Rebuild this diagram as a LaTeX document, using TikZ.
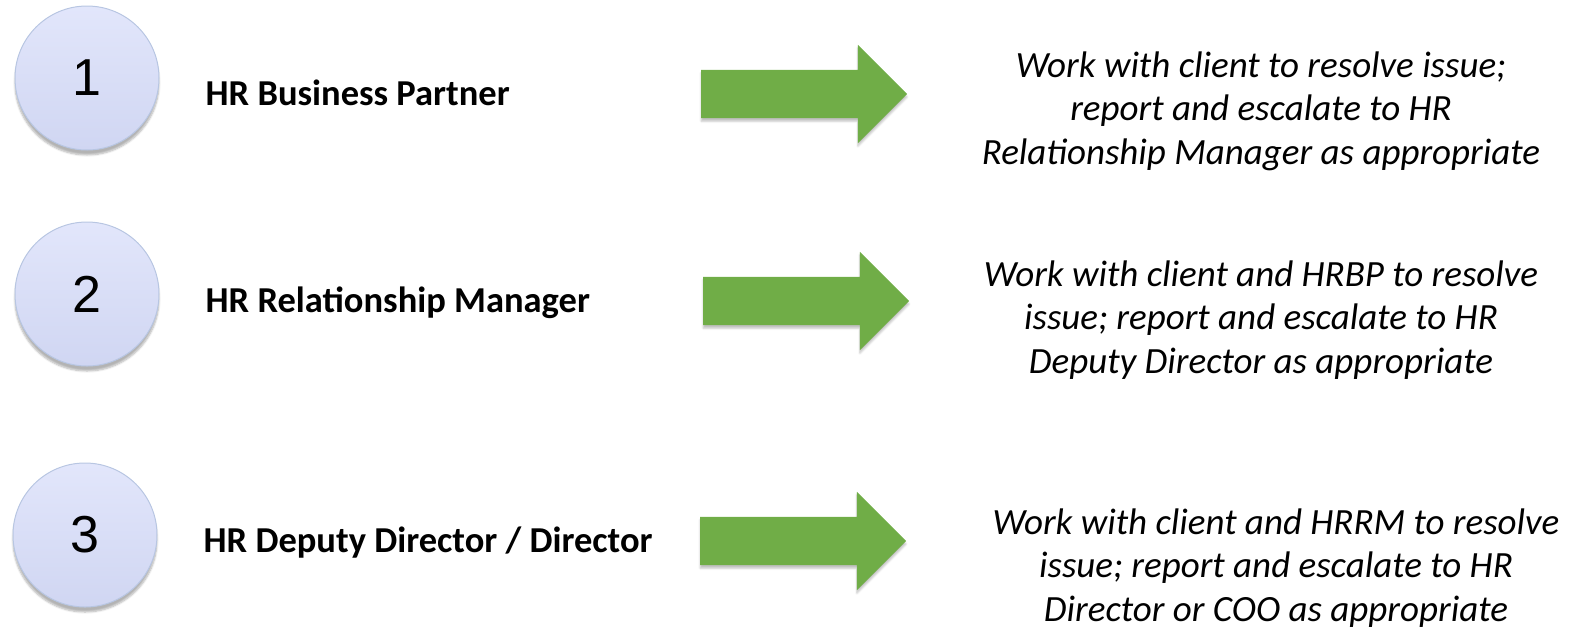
\documentclass[tikz,border=0pt]{standalone}
\usepackage{fontspec}
\setmainfont{Carlito}
\newfontfamily\numfont{Liberation Sans}
\usepackage{xcolor}
\usepackage{tikz}
\usetikzlibrary{positioning,shapes.arrows,shadows.blur}

\definecolor{stepTop}{RGB}{226,230,251}
\definecolor{stepBottom}{RGB}{208,214,242}
\definecolor{stepLine}{RGB}{184,198,226}
\definecolor{escGreen}{RGB}{112,173,71}

\begin{document}
\begin{tikzpicture}[
		x=1pt, y=-1pt,
		node distance=46pt,
		stepcircle/.style={
			circle,
			draw=stepLine,
			line width=1pt,
			top color=stepTop,
			bottom color=stepBottom,
			minimum size=144pt,
			inner sep=0pt,
			font=\numfont\fontsize{52}{60}\selectfont,
			blur shadow={shadow xshift=0pt, shadow yshift=-5pt,
				shadow blur steps=6, shadow opacity=30}
		},
		role/.style={
			font=\fontsize{36.5}{43}\selectfont\bfseries,
			inner sep=0pt
		},
		escarrow/.style={
			single arrow,
			fill=escGreen,
			inner xsep=0pt,
			inner ysep=24pt,
			single arrow head extend=25pt,
			minimum width=98pt,
			minimum height=206pt,
			blur shadow={shadow xshift=0pt, shadow yshift=-3pt,
				shadow blur steps=4, shadow opacity=25}
		},
		action/.style={
			align=center,
			font=\fontsize{37}{43.5}\selectfont\itshape,
			inner sep=0pt
		}
		]
		
		\useasboundingbox (0,0) rectangle (1576,630);
		
		% Escalation levels
		\node[stepcircle] (one) at (87,78) {1};
		\node[stepcircle] (two) at (87,294) {2};
		\node[stepcircle] (three) at (85,535) {3};
		
		% Roles
		\node[role, right=of one, yshift=-15pt] (bp) {HR Business Partner};
		\node[role, right=of two, yshift=-9pt] (rm) {HR Relationship Manager};
		\node[role, right=of three, yshift=-8pt] (dd) {HR Deputy Director / Director};
		
		% Arrows
		\node[escarrow] (arrowone) at (792,94) {};
		\node[escarrow] (arrowtwo) at (794,301) {};
		\node[escarrow] (arrowthree) at (791,541) {};
		
		% Actions
		\node[action] (actone) at (1261,111) {
			Work with client to resolve issue;\\
			report and escalate to HR\\
			Relationship Manager as appropriate
		};
		\node[action] (acttwo) at (1261,320) {
			Work with client and HRBP to resolve\\
			issue; report and escalate to HR\\
			Deputy Director as appropriate
		};
		\node[action] (actthree) at (1276,568) {
			Work with client and HRRM to resolve\\
			issue; report and escalate to HR\\
			Director or COO as appropriate
		};
		
	\end{tikzpicture}
\end{document}
